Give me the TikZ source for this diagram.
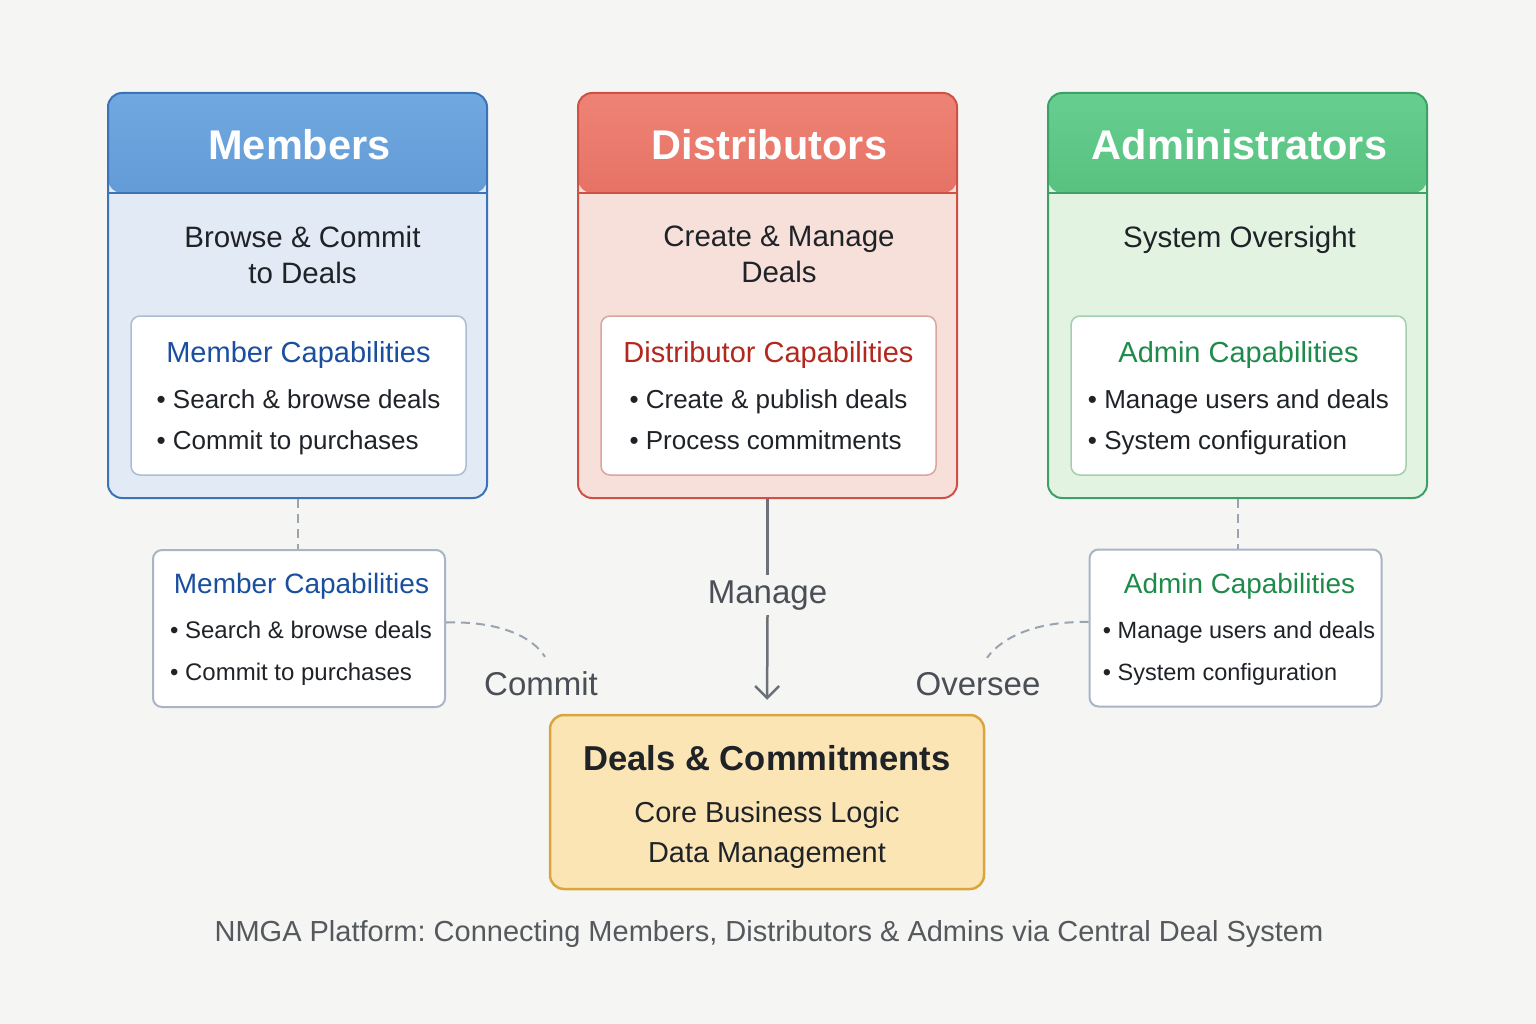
\documentclass[tikz,border=0pt]{standalone}
\usepackage{fontspec}
\setmainfont{Liberation Sans}
\frenchspacing
\usetikzlibrary{arrows.meta}
\definecolor{bgcol}{HTML}{F5F5F4}
\definecolor{ink}{HTML}{1F2328}
\definecolor{mbTop}{HTML}{70A8E0}\definecolor{mbBot}{HTML}{3A74BA}\definecolor{mbLine}{HTML}{3B72B8}
\definecolor{mbBody}{HTML}{E2EBF5}\definecolor{mbSoft}{HTML}{A9BDD6}\definecolor{mbText}{HTML}{1A4F9E}
\definecolor{dsTop}{HTML}{EE8375}\definecolor{dsBot}{HTML}{CE4035}\definecolor{dsLine}{HTML}{CF5146}
\definecolor{dsBody}{HTML}{F8E0DA}\definecolor{dsSoft}{HTML}{DBA59D}\definecolor{dsText}{HTML}{B3271D}
\definecolor{adTop}{HTML}{66CF8F}\definecolor{adBot}{HTML}{2C9855}\definecolor{adLine}{HTML}{3DA066}
\definecolor{adBody}{HTML}{E3F3E2}\definecolor{adSoft}{HTML}{A4CFAE}\definecolor{adText}{HTML}{1E8B4A}
\definecolor{subline}{HTML}{A7B5C5}
\definecolor{dashcol}{HTML}{9AA4AF}
\definecolor{arrowcol}{HTML}{6B7079}
\definecolor{labcol}{HTML}{4A4F56}
\definecolor{dealfill}{HTML}{FBE5B5}
\definecolor{dealline}{HTML}{D9A63D}
\definecolor{capcol}{HTML}{55595E}
\tikzstyle{panel}=[rectangle, rounded corners=14pt, line width=2pt, minimum width=379pt, minimum height=405pt, inner sep=0pt]
\tikzstyle{capbox}=[rectangle, rounded corners=9pt, fill=white, line width=1.5pt, minimum width=335pt, minimum height=159pt]
\tikzstyle{subbox}=[rectangle, rounded corners=9pt, fill=white, draw=subline, line width=2pt, minimum width=292pt, minimum height=157pt]
\tikzstyle{list}=[anchor=north, inner sep=0pt, align=left, text=ink]
\tikzstyle{dashlink}=[draw=dashcol, line width=2pt, dash pattern=on 9pt off 6pt]
\tikzstyle{flowline}=[draw=arrowcol, line width=2.5pt]
\tikzstyle{flowlabel}=[anchor=base, text=labcol, inner sep=5pt, font=\fontsize{33}{40}\selectfont]

\begin{document}
\begin{tikzpicture}[x=1pt,y=-1pt]
\fill[bgcol] (0,0) rectangle (1536,1024);
\useasboundingbox (0,0) rectangle (1536,1024);

%% role panels
\foreach \nm/\px/\sx/\cl/\ti/\su/\hd/\ia/\ib in {
	mem/297.5/302.5/mb/Members/{Browse \& Commit\\to Deals}/Member/{Search \& browse deals}/{Commit to purchases},
	dist/767.5/779/ds/Distributors/{Create \& Manage\\Deals}/Distributor/{Create \& publish deals}/{Process commitments},
	adm/1237.5/1239.5/ad/Administrators/{System Oversight}/Admin/{Manage users and deals}/{System configuration}}{
	\node[panel, draw=\cl Line, fill=\cl Body, path picture={
		\shade[top color=\cl Top, bottom color=\cl Bot] (path picture bounding box.north west) rectangle ([yshift=-100pt]path picture bounding box.north east);
		\draw[draw=\cl Line, line width=1.5pt] ([yshift=-100pt]path picture bounding box.north west) -- ([yshift=-100pt]path picture bounding box.north east);
		}] (\nm) at (\px,295.5) {};
	\node[anchor=base, text=white, font=\bfseries\fontsize{41.5}{48}\selectfont] (\nm-title) at (\px+2,160) {\ti};
	\node[anchor=north, inner sep=0pt, align=center, text=ink, font=\fontsize{29.5}{36}\selectfont] (\nm-sub) at (\sx,226) {\su};
	\node[capbox, draw=\cl Soft] (\nm-cap) at (\px+1,395.5) {};
	\node[anchor=base, text=\cl Text, font=\fontsize{29}{36}\selectfont] (\nm-head) at (\px+1,362) {\hd\ Capabilities};
	\node[list, font=\fontsize{26}{41}\selectfont] (\nm-list) at (\px+1,389) {\textbullet\ \ia\\\textbullet\ \ib};
	}

%% detached capability boxes
\node[subbox] (memSub) at (299,628.5) {};
\node[anchor=base, text=mbText, font=\fontsize{28}{34}\selectfont] (memSub-head) at (301.5,593) {Member Capabilities};
\node[list, font=\fontsize{24}{42}\selectfont] (memSub-list) at (301,621) {\textbullet\ Search \& browse deals\\\textbullet\ Commit to purchases};
\node[subbox] (admSub) at (1235.5,628) {};
\node[anchor=base, text=adText, font=\fontsize{27.9}{34}\selectfont] (admSub-head) at (1239.5,593) {Admin Capabilities};
\node[list, font=\fontsize{23.5}{42}\selectfont] (admSub-list) at (1239,621) {\textbullet\ Manage users and deals\\\textbullet\ System configuration};

%% central store
\node[rectangle, rounded corners=14pt, fill=dealfill, draw=dealline, line width=2.5pt, minimum width=434pt, minimum height=174pt] (deals) at (767,802) {};
\node[anchor=base, text=ink, font=\bfseries\fontsize{34.6}{40}\selectfont] (deals-title) at (767,770) {Deals \& Commitments};
\node[anchor=north, inner sep=0pt, align=center, text=ink, font=\fontsize{28.9}{40}\selectfont] (deals-sub) at (767,801) {Core Business Logic\\Data Management};

%% labels
\node[flowlabel] (commitL) at (541,695) {Commit};
\node[flowlabel] (overL) at (978,695) {Oversee};
\node[flowlabel] (manL) at (767.5,603) {Manage};

%% links
\draw[dashlink] (mem.south) -- (mem.south |- memSub.north);
\draw[dashlink] (adm.south) -- (adm.south |- admSub.north);
\draw[dashlink] ([yshift=6pt]memSub.east) .. controls (498,621) and (532,636) .. ([xshift=4pt,yshift=9pt]commitL.north);
\draw[dashlink] ([yshift=6pt]admSub.west) .. controls (1038,621) and (1003,636) .. ([xshift=9pt,yshift=9pt]overL.north);
\draw[flowline] (dist.south) -- (manL.north);
\draw[flowline, -{Straight Barb[length=12pt,width=24pt]}, shorten >=14pt] (manL.south) -- (deals.north);

\node[anchor=base, text=capcol, font=\fontsize{29}{34}\selectfont] (caption) at (769,941) {NMGA Platform: Connecting Members, Distributors \& Admins via Central Deal System};
\end{tikzpicture}
\end{document}
